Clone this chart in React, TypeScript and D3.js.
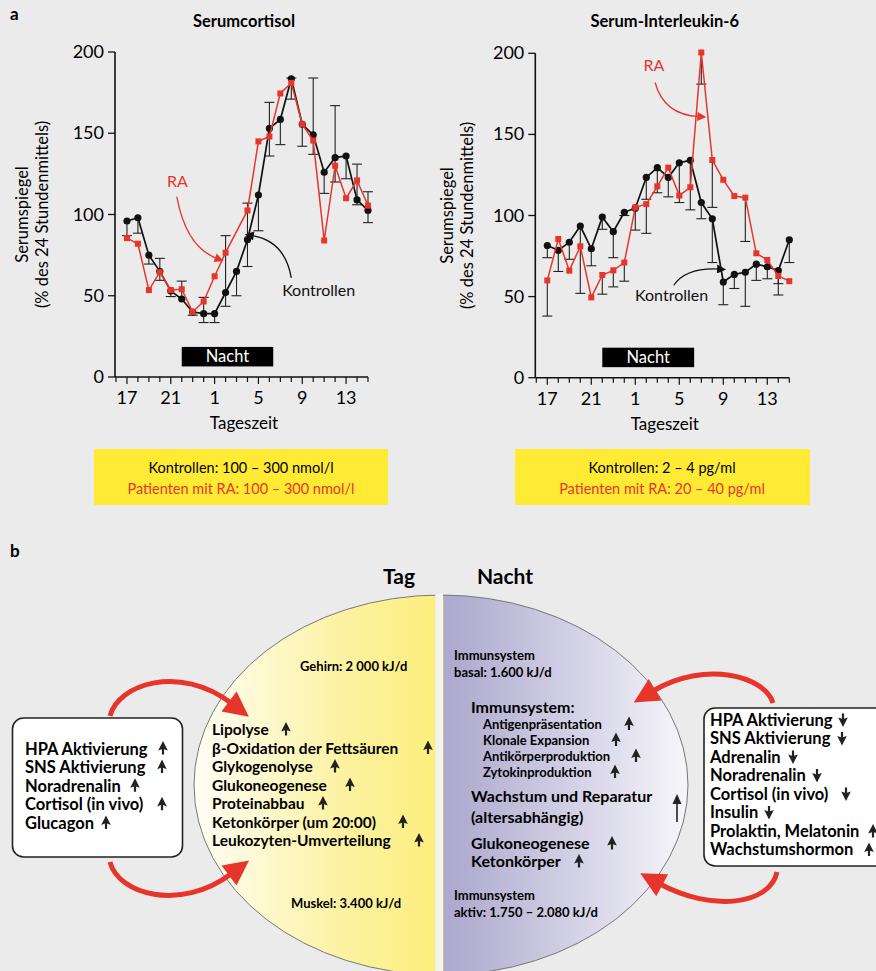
import React from 'react';
import * as d3 from 'd3';

// hours of the day, 17:00 on day 1 to 15:00 on day 2 (24+h)
const hours = [17, 18, 19, 20, 21, 22, 23, 24, 25, 26, 27, 28, 29, 30, 31, 32, 33, 34, 35, 36, 37, 38, 39];
const tickHours = [17, 21, 25, 29, 33, 37];
const tickLabels = ['17', '21', '1', '5', '9', '13'];
const yTicks = [0, 50, 100, 150, 200];

// Serumcortisol
const cortisolCtrl = [96, 98, 75, 65, 53, 48, 40, 39, 39, 52, 65, 84.5, 112, 153, 158.5, 183.5, 155.5, 149, 126, 135, 136, 109, 102.5];
const cortisolCtrlLo = [87, 88.5, 69.5, 59.5, 49.5, null, 38, 33.5, 33.5, 43.5, 50, 68, 90, 136, 143, 171, 142, 137, 113, 120, 122, 106, 95];
const cortisolCtrlHi = [null, null, null, 73, null, 59, null, 49, null, 87, null, 107, null, 169, null, 184, null, 184, null, 167, null, 131, 114];
const cortisolRA = [85.5, 82, 53.5, 64.5, 53.5, 54, 40, 46.5, 62, 76.5, null, 102.5, 145, 148, 174.5, 181, 155.5, 145.5, 84, 130, 110, 121, 105.5];

// Serum-Interleukin-6
const il6Ctrl = [81.5, 78.5, 83.5, 93.5, 79.5, 99, 90, 102, 104.5, 123.5, 129.5, 123.5, 132.5, 134, 108, 98, 59, 63.7, 65, 70, 68.4, 66, 85];
const il6CtrlLo = [74, 65.5, 73, 52, 69, 91.5, 74, 100, 91, 110, 114, 111.5, 108, 103.5, 98, 71, 45, 55, 44, 60, 61, 51, 71];
const il6RA = [60, 85.5, 66, 81, 49.5, 63.3, 66.2, 71, 105, 107, 118, 129.5, 112.3, 117.4, 200.5, 134.2, 122, 112, 111, 76.7, 72.6, 62.7, 59.5];
const il6RALo = [38, null, null, null, null, 51.5, 56, 59.5, null, 89, null, null, null, null, 181, 105, null, null, 84, null, null, 58, null];

const nightStart = 22;
const nightEnd = 30.35;

const RED = '#e8352b';
const BG = '#ebebeb';
const FONT = 'Lato, "Open Sans", sans-serif';

type Pt = { h: number; v: number };
type Ann = { text: string; color: string; at: Pt; from: Pt; ctrl: Pt; to: Pt; marker: string };

function Panel(props: {
  left: number; right: number; top: number; bottom: number; title: string;
  ctrl: number[]; ctrlLo: (number | null)[]; ctrlHi: (number | null)[];
  ra: (number | null)[]; raLo: (number | null)[]; anns: Ann[];
  yLabelX: number;
}) {
  const { left, right, top, bottom, title, ctrl, ctrlLo, ctrlHi, ra, raLo, anns, yLabelX } = props;
  const x = d3.scaleLinear().domain([16, 39]).range([left, right]);
  const y = d3.scaleLinear().domain([0, 200]).range([bottom, top]);
  const axisX = left - 1;
  const line = d3.line<Pt>().x(d => x(d.h)).y(d => y(d.v));
  const ctrlPts: Pt[] = hours.map((h, i) => ({ h, v: ctrl[i] }));
  const raPts: Pt[] = hours.map((h, i) => ({ h, v: ra[i] as number })).filter((d, i) => ra[i] != null);
  const bars: { h: number; v: number; e: number }[] = [];
  hours.forEach((h, i) => {
    if (ctrlLo[i] != null) bars.push({ h, v: ctrl[i], e: ctrlLo[i] as number });
    if (ctrlHi[i] != null) bars.push({ h, v: ctrl[i], e: ctrlHi[i] as number });
    if (raLo[i] != null && ra[i] != null) bars.push({ h, v: ra[i] as number, e: raLo[i] as number });
  });
  const cx = (left + right) / 2;
  const midY = (top + bottom) / 2;
  return (
    <g fontFamily={FONT}>
      <text x={cx + 2} y={27} textAnchor="middle" fontWeight={700} fontSize={16.5}>{title}</text>
      <g transform={`translate(${yLabelX},${midY}) rotate(-90)`} fontSize={16.5} textAnchor="middle">
        <text x={0} y={0}>Serumspiegel</text>
        <text x={0} y={20}>(% des 24 Stundenmittels)</text>
      </g>
      {/* night box */}
      <rect x={x(nightStart)} y={y(18.5)} width={x(nightEnd) - x(nightStart)} height={y(6.5) - y(18.5)} fill="#000" />
      <text x={(x(nightStart) + x(nightEnd)) / 2} y={y(6.5) - 4} textAnchor="middle" fill="#fff" fontSize={16.5}>Nacht</text>
      {/* axes */}
      <line x1={axisX} x2={axisX} y1={y(200)} y2={y(0)} stroke="#111" strokeWidth={1.6} />
      <line x1={axisX} x2={x(39)} y1={y(0)} y2={y(0)} stroke="#111" strokeWidth={1.6} />
      {yTicks.map(t => (
        <g key={t}>
          <line x1={axisX - 7} x2={axisX} y1={y(t)} y2={y(t)} stroke="#111" strokeWidth={1.3} />
          <text x={axisX - 11} y={y(t) + 6} textAnchor="end" fontSize={18}>{t}</text>
        </g>
      ))}
      {[16, ...hours].map(h => (
        <line key={h} x1={x(h)} x2={x(h)} y1={y(0)} y2={y(0) + (tickHours.includes(h) ? 7 : 5)} stroke="#111" strokeWidth={1.2} />
      ))}
      {tickHours.map((h, i) => (
        <text key={h} x={x(h)} y={y(0) + 27} textAnchor="middle" fontSize={18}>{tickLabels[i]}</text>
      ))}
      <text x={cx + 2} y={y(0) + 52} textAnchor="middle" fontSize={17}>Tageszeit</text>
      {/* error bars */}
      {bars.map((b, i) => (
        <g key={i} stroke="#222" strokeWidth={1.1}>
          <line x1={x(b.h)} x2={x(b.h)} y1={y(b.v)} y2={y(b.e)} />
          <line x1={x(b.h) - 5} x2={x(b.h) + 5} y1={y(b.e)} y2={y(b.e)} />
        </g>
      ))}
      {/* controls */}
      <path d={line(ctrlPts) || ''} fill="none" stroke="#111" strokeWidth={1.7} />
      {ctrlPts.map((d, i) => <circle key={i} cx={x(d.h)} cy={y(d.v)} r={3.6} fill="#111" />)}
      {/* RA */}
      <path d={line(raPts) || ''} fill="none" stroke={RED} strokeWidth={1.5} />
      {raPts.map((d, i) => <rect key={i} x={x(d.h) - 3} y={y(d.v) - 3} width={6} height={6} fill={RED} />)}
      {/* annotations */}
      {anns.map((a, i) => (
        <g key={i}>
          <text x={x(a.at.h)} y={y(a.at.v)} textAnchor="middle" fontSize={16} fill={a.color}>{a.text}</text>
          <path d={`M${x(a.from.h)},${y(a.from.v)} Q${x(a.ctrl.h)},${y(a.ctrl.v)} ${x(a.to.h)},${y(a.to.v)}`}
            fill="none" stroke={a.color} strokeWidth={1.3} markerEnd={`url(#${a.marker})`} />
        </g>
      ))}
    </g>
  );
}

// diagram texts
const dayCause = ['HPA Aktivierung', 'SNS Aktivierung', 'Noradrenalin', 'Cortisol (in vivo)', 'Glucagon'];
const dayCauseArrowX = [163, 162, 135, 162, 106];
const dayEffects = ['Lipolyse', 'β-Oxidation der Fettsäuren', 'Glykogenolyse', 'Glukoneogenese', 'Proteinabbau', 'Ketonkörper (um 20:00)', 'Leukozyten-Umverteilung'];
const dayEffectsArrowX = [286, 428, 335, 350, 323, 403, 419];
const immuneItems = ['Antigenpräsentation', 'Klonale Expansion', 'Antikörperproduktion', 'Zytokinproduktion'];
const immuneArrowX = [629, 616, 636, 615];
const nightCause = ['HPA Aktivierung', 'SNS Aktivierung', 'Adrenalin', 'Noradrenalin', 'Cortisol (in vivo)', 'Insulin', 'Prolaktin, Melatonin', 'Wachstumshormon'];
const nightCauseUp = [false, false, false, false, false, false, true, true];
const nightCauseArrowX = [843, 842, 793, 817, 846, 769, 873, 869];

function Arrow({ x, y, up = true }: { x: number; y: number; up?: boolean }) {
  const d = 'M0,-7 L4.8,2.6 L1.1,1.2 L1.1,6.5 L-1.1,6.5 L-1.1,1.2 L-4.8,2.6 Z';
  return <path d={d} transform={`translate(${x},${y}) ${up ? '' : 'scale(1,-1)'}`} fill="#222" />;
}

export default function App() {
  const annLeft: Ann[] = [
    { text: 'RA', color: RED, at: { h: 21.6, v: 117 }, from: { h: 21.55, v: 111 }, ctrl: { h: 22.4, v: 80 }, to: { h: 25.2, v: 73 }, marker: 'arrRed' },
    { text: 'Kontrollen', color: '#111', at: { h: 34.5, v: 50 }, from: { h: 32.0, v: 61 }, ctrl: { h: 31.4, v: 84 }, to: { h: 28.4, v: 87 }, marker: 'arrBlack' },
  ];
  const annRight: Ann[] = [
    { text: 'RA', color: RED, at: { h: 26.7, v: 189 }, from: { h: 26.8, v: 182 }, ctrl: { h: 27.6, v: 162 }, to: { h: 30.8, v: 161 }, marker: 'arrRed' },
    { text: 'Kontrollen', color: '#111', at: { h: 28.3, v: 47 }, from: { h: 28.5, v: 57 }, ctrl: { h: 29.6, v: 68 }, to: { h: 32.6, v: 67 }, marker: 'arrBlack' },
  ];

  return (
    <div style={{ position: 'absolute', left: 0, top: 0 }}>
      <svg width={876} height={971} style={{ display: 'block' }}>
        <defs>
          <marker id="arrRed" viewBox="0 0 10 10" refX={2} refY={5} markerWidth={10} markerHeight={9} markerUnits="userSpaceOnUse" orient="auto">
            <path d="M0,0 L10,5 L0,10 z" fill={RED} />
          </marker>
          <marker id="arrBlack" viewBox="0 0 10 10" refX={2} refY={5} markerWidth={10} markerHeight={9} markerUnits="userSpaceOnUse" orient="auto">
            <path d="M0,0 L10,5 L0,10 z" fill="#111" />
          </marker>
          <marker id="bigRed" viewBox="0 0 10 10" refX={1} refY={5} markerWidth={27} markerHeight={25} markerUnits="userSpaceOnUse" orient="auto">
            <path d="M0,0 L10,5 L0,10 z" fill={RED} />
          </marker>
          <linearGradient id="gDay" x1="0" x2="1" y1="0" y2="0">
            <stop offset="0" stopColor="#fffef6" />
            <stop offset="0.3" stopColor="#fcf2a2" />
            <stop offset="0.7" stopColor="#fdea55" />
            <stop offset="1" stopColor="#ffe417" />
          </linearGradient>
          <linearGradient id="gNight" x1="0" x2="1" y1="0" y2="0">
            <stop offset="0" stopColor="#7169aa" />
            <stop offset="0.55" stopColor="#b2aed1" />
            <stop offset="1" stopColor="#f6f6fa" />
          </linearGradient>
          <clipPath id="cDay"><rect x={0} y={0} width={435.5} height={971} /></clipPath>
          <clipPath id="cNight"><rect x={443} y={0} width={440} height={971} /></clipPath>
        </defs>
        <rect width={876} height={971} fill={BG} />

        <text x={10} y={20} fontFamily={FONT} fontWeight={700} fontSize={17}>a</text>
        <Panel left={116} right={368} top={52} bottom={377} title="Serumcortisol"
          ctrl={cortisolCtrl} ctrlLo={cortisolCtrlLo} ctrlHi={cortisolCtrlHi}
          ra={cortisolRA} raLo={hours.map(() => null)} anns={annLeft} yLabelX={28} />
        <Panel left={536.3} right={789.3} top={53.3} bottom={377.7} title="Serum-Interleukin-6"
          ctrl={il6Ctrl} ctrlLo={il6CtrlLo} ctrlHi={hours.map(() => null)}
          ra={il6RA} raLo={il6RALo} anns={annRight} yLabelX={453} />

        {/* reference ranges */}
        <g fontFamily={FONT} fontSize={14.5} textAnchor="middle">
          <rect x={94} y={449} width={294} height={56} fill="#ffeb33" />
          <text x={241} y={473}>Kontrollen: 100 – 300 nmol/l</text>
          <text x={241} y={494} fill={RED}>Patienten mit RA: 100 – 300 nmol/l</text>
          <rect x={515} y={449} width={295} height={56} fill="#ffeb33" />
          <text x={662} y={473}>Kontrollen: 2 – 4 pg/ml</text>
          <text x={662} y={494} fill={RED}>Patienten mit RA: 20 – 40 pg/ml</text>
        </g>

        {/* panel b */}
        <g fontFamily={FONT}>
          <text x={10} y={557} fontWeight={700} fontSize={17}>b</text>
          <text x={399} y={584} textAnchor="middle" fontWeight={700} fontSize={21}>Tag</text>
          <text x={505} y={584} textAnchor="middle" fontWeight={700} fontSize={21}>Nacht</text>

          <ellipse cx={441} cy={785} rx={247} ry={190} fill="url(#gDay)" stroke="#777" strokeWidth={1} clipPath="url(#cDay)" />
          <ellipse cx={441} cy={785} rx={247} ry={190} fill="url(#gNight)" stroke="#777" strokeWidth={1} clipPath="url(#cNight)" />
          <rect x={435.5} y={594} width={7.5} height={380} fill="#f3f3f3" />
          <line x1={443.5} x2={443.5} y1={596} y2={971} stroke="#c9c27a" strokeWidth={1} />

          {/* day side */}
          <text x={300} y={671} fontSize={13} fontWeight={700}>Gehirn: 2 000 kJ/d</text>
          <text x={291} y={908} fontSize={13} fontWeight={700}>Muskel: 3.400 kJ/d</text>
          {dayEffects.map((t, i) => (
            <g key={t}>
              <text x={212} y={735 + i * 18.5} fontSize={15.5} fontWeight={700}>{t}</text>
              <Arrow x={dayEffectsArrowX[i]} y={729 + i * 18.5} />
            </g>
          ))}

          <rect x={12.5} y={718} width={170} height={139} rx={11} fill="#fff" stroke="#222" strokeWidth={1.6} />
          {dayCause.map((t, i) => (
            <g key={t}>
              <text x={25} y={754.5 + i * 18.6} fontSize={16.5} fontWeight={700}>{t}</text>
              <Arrow x={dayCauseArrowX[i]} y={748 + i * 18.6} />
            </g>
          ))}
          <path d="M110,716 C118,684 180,664 231,703" fill="none" stroke={RED} strokeWidth={5} markerEnd="url(#bigRed)" />
          <path d="M110,862 C118,894 180,912 231,874" fill="none" stroke={RED} strokeWidth={5} markerEnd="url(#bigRed)" />

          {/* night side */}
          <text x={454} y={660} fontSize={13} fontWeight={700}>Immunsystem</text>
          <text x={454} y={677} fontSize={13} fontWeight={700}>basal: 1.600 kJ/d</text>
          <text x={471} y={713} fontSize={16} fontWeight={700}>Immunsystem:</text>
          {immuneItems.map((t, i) => (
            <g key={t}>
              <text x={483} y={728.5 + i * 16} fontSize={13} fontWeight={700}>{t}</text>
              <Arrow x={immuneArrowX[i]} y={723.5 + i * 16} />
            </g>
          ))}
          <text x={471} y={802} fontSize={16} fontWeight={700}>Wachstum und Reparatur</text>
          <text x={471} y={823} fontSize={16} fontWeight={700}>(altersabhängig)</text>
          <line x1={677} x2={677} y1={800} y2={822} stroke="#222" strokeWidth={1.6} />
          <path d="M677,794 L681.5,804 L672.5,804 Z" fill="#222" />
          <text x={471} y={849} fontSize={16} fontWeight={700}>Glukoneogenese</text>
          <Arrow x={612} y={843} />
          <text x={471} y={867} fontSize={16} fontWeight={700}>Ketonkörper</text>
          <Arrow x={579} y={861} />
          <text x={454} y={900} fontSize={13} fontWeight={700}>Immunsystem</text>
          <text x={454} y={917} fontSize={13} fontWeight={700}>aktiv: 1.750 – 2.080 kJ/d</text>

          <rect x={704} y={708} width={185} height={158} rx={11} fill="#fff" stroke="#222" strokeWidth={1.6} />
          {nightCause.map((t, i) => (
            <g key={t}>
              <text x={710} y={725.5 + i * 18.5} fontSize={16.5} fontWeight={700}>{t}</text>
              <Arrow x={nightCauseArrowX[i]} y={720 + i * 18.5} up={nightCauseUp[i]} />
            </g>
          ))}
          <path d="M773,703 C765,676 705,660 653,691" fill="none" stroke={RED} strokeWidth={5} markerEnd="url(#bigRed)" />
          <path d="M777,872 C770,905 712,912 660,884" fill="none" stroke={RED} strokeWidth={5} markerEnd="url(#bigRed)" />
        </g>
      </svg>
    </div>
  );
}
